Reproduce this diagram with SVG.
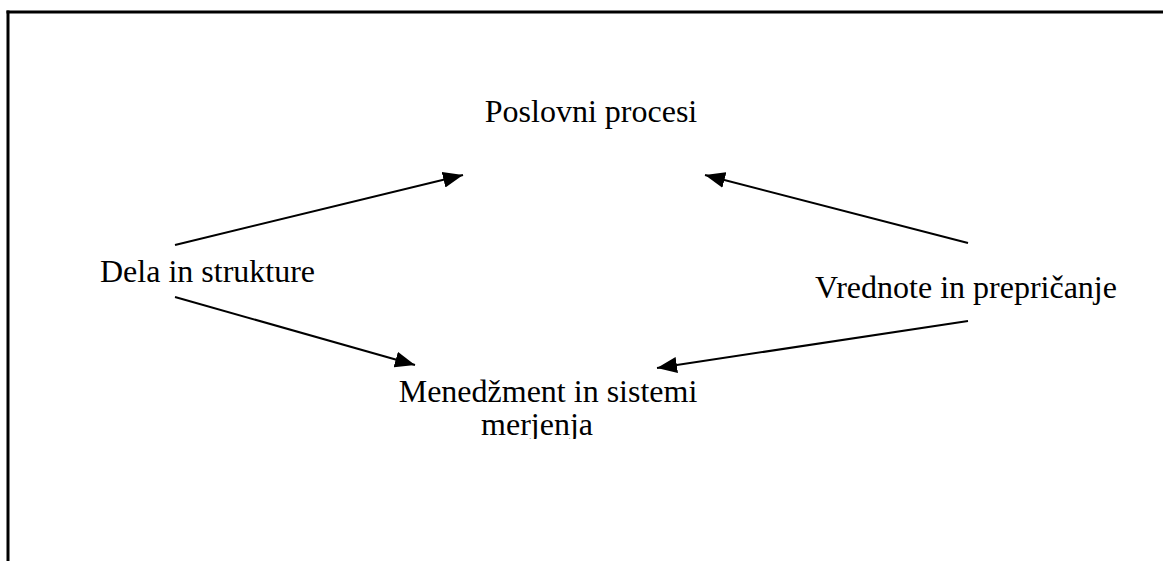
<svg xmlns="http://www.w3.org/2000/svg" width="1163" height="561" viewBox="0 0 1163 561">
  <style>
    .lbl { font-family: "Liberation Serif", "Times New Roman", serif; font-size: 32px; fill: #000; }
    .frame { stroke: #000; stroke-width: 3; fill: none; }
    .conn { stroke: #000; stroke-width: 2; fill: none; marker-end: url(#head); }
  </style>
  <defs>
    <marker id="head" markerUnits="userSpaceOnUse" markerWidth="22" markerHeight="16" refX="20" refY="8" orient="auto">
      <path d="M0,0 L20,8 L0,16 Z" fill="#000"/>
    </marker>
    <!-- the text box cuts off the descenders of the second line -->
    <clipPath id="textClip">
      <rect x="0" y="0" width="1163" height="439"/>
    </clipPath>
  </defs>

  <rect width="1163" height="561" fill="#fff"/>

  <!-- page frame: top and left edges -->
  <g id="frame">
    <line class="frame" x1="6.5" y1="12" x2="1163" y2="12"/>
    <line class="frame" x1="8" y1="10.5" x2="8" y2="561"/>
  </g>

  <g id="connectors">
    <line class="conn" x1="175" y1="245" x2="463" y2="175"/>
    <line class="conn" x1="175" y1="297" x2="415" y2="365"/>
    <line class="conn" x1="968" y1="243" x2="705" y2="175"/>
    <line class="conn" x1="968" y1="321" x2="657" y2="368"/>
  </g>

  <g id="poslovni-procesi">
    <text class="lbl" x="591" y="122" text-anchor="middle">Poslovni procesi</text>
  </g>
  <g id="dela-in-strukture">
    <text class="lbl" x="100" y="282">Dela in strukture</text>
  </g>
  <g id="vrednote-in-prepricanje">
    <text class="lbl" x="815" y="298">Vrednote in prepričanje</text>
  </g>
  <g id="menedzment" clip-path="url(#textClip)">
    <text class="lbl" x="548" y="402" text-anchor="middle">Menedžment in sistemi</text>
    <text class="lbl" x="537" y="435" text-anchor="middle">merjenja</text>
  </g>
</svg>
